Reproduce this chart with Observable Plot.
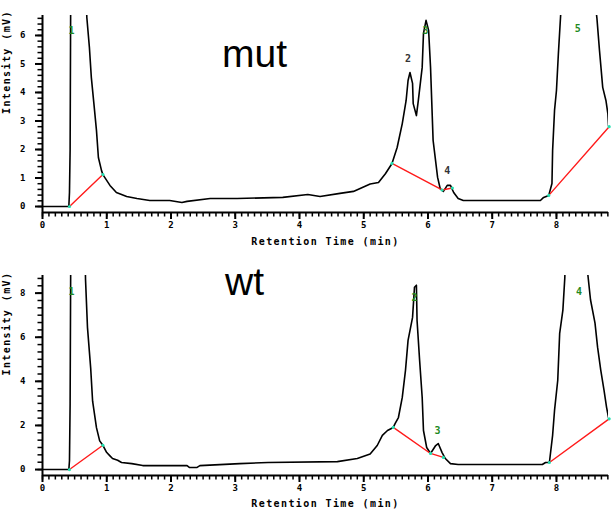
<!DOCTYPE html>
<html><head><meta charset="utf-8">
<script src="https://cdn.jsdelivr.net/npm/d3@7"></script>
<script src="https://cdn.jsdelivr.net/npm/@observablehq/plot@0.6"></script>
<style>
body{margin:0;background:#fff;}
#wrap{position:relative;width:614px;height:514px;overflow:hidden;background:#fff;}
.ttl{position:absolute;font-family:"Liberation Sans",Arial,sans-serif;font-size:39px;line-height:39px;color:#000;}
.panel{position:absolute;left:0;}
g.axt text{letter-spacing:1.4px;}
</style></head><body>
<div id="wrap">
  <div class="panel" id="top" style="top:0px"></div>
  <div class="panel" id="bottom" style="top:257px"></div>
  <div class="ttl" style="left:222px;top:34px">mut</div>
  <div class="ttl" style="left:225px;top:262px">wt</div>
</div>
<script>
// ---- shared axis values ----
const xTicks = [0, 1, 2, 3, 4, 5, 6, 7, 8];
const xLabel = "Retention Time (min)";
const yLabel = "Intensity (mV)";

// ---- mut panel ----
const mutTicksY = [0, 1, 2, 3, 4, 5, 6];
const mutTime = [0, 0.41, 0.42, 0.43, 0.44, 0.55, 0.67, 0.69, 0.73, 0.76, 0.80, 0.84, 0.87, 0.92, 0.94, 1.05, 1.15, 1.31, 1.47, 1.67, 1.98, 2.17, 2.25, 2.61, 3.03, 3.74, 4.13, 4.32, 4.63, 4.84, 5.10, 5.23, 5.34, 5.44, 5.52, 5.60, 5.66, 5.69, 5.72, 5.76, 5.77, 5.82, 5.85, 5.91, 5.93, 5.97, 6.01, 6.04, 6.08, 6.15, 6.19, 6.24, 6.30, 6.35, 6.40, 6.47, 6.55, 7.75, 7.80, 7.88, 7.93, 7.94, 7.97, 8.00, 8.03, 8.07, 8.30, 8.61, 8.63, 8.67, 8.72, 8.77, 8.80, 8.81];
const mutSignal = [0, 0, 0.5, 2.0, 8.0, 30, 8.0, 6.63, 5.58, 4.53, 3.61, 2.67, 1.72, 1.25, 1.12, 0.74, 0.49, 0.35, 0.28, 0.21, 0.21, 0.14, 0.18, 0.28, 0.28, 0.32, 0.42, 0.35, 0.46, 0.53, 0.79, 0.84, 1.16, 1.51, 2.07, 2.91, 3.72, 4.42, 4.70, 4.32, 3.61, 3.19, 3.72, 4.88, 6.07, 6.53, 6.18, 4.88, 2.32, 1.02, 0.63, 0.53, 0.74, 0.74, 0.49, 0.28, 0.21, 0.21, 0.32, 0.39, 0.81, 1.96, 3.37, 4.07, 5.37, 6.9, 30, 7.0, 6.6, 5.47, 4.18, 3.72, 3.26, 2.84];
const mutBaseTime = [0.42, 0.94, 5.44, 6.22, 6.38, 7.88, 8.82];
const mutBaseValue = [0, 1.12, 1.51, 0.58, 0.65, 0.39, 2.8];
const mutBaseSeg = [1, 1, 2, 2, 2, 3, 3];
const mutPeakTime = [0.45, 5.69, 5.96, 6.30, 8.33];
const mutPeakValue = [6.18, 5.19, 6.18, 1.26, 6.25];
const mutPeakText = ["1", "2", "3", "4", "5"];
const mutPeakColor = ["#1f8a1f", "#333333", "#1f8a1f", "#333333", "#1f8a1f"];

// ---- wt panel ----
const wtTicksY = [0, 2, 4, 6, 8];
const wtTime = [0, 0.41, 0.42, 0.43, 0.44, 0.55, 0.66, 0.67, 0.70, 0.75, 0.78, 0.84, 0.89, 0.94, 1.00, 1.05, 1.09, 1.17, 1.23, 1.39, 1.56, 2.25, 2.29, 2.40, 2.45, 3.07, 3.51, 4.59, 4.90, 5.10, 5.21, 5.29, 5.37, 5.46, 5.49, 5.54, 5.60, 5.65, 5.69, 5.76, 5.79, 5.82, 5.83, 5.87, 5.91, 5.93, 5.98, 6.04, 6.12, 6.16, 6.22, 6.27, 6.35, 6.47, 7.78, 7.83, 7.89, 7.94, 7.97, 8.02, 8.05, 8.10, 8.13, 8.30, 8.48, 8.49, 8.53, 8.60, 8.64, 8.69, 8.74, 8.78, 8.81];
const wtSignal = [0, 0, 0.4, 3, 10, 40, 10, 8.6, 6.45, 4.6, 3.1, 1.9, 1.3, 1.1, 0.77, 0.62, 0.5, 0.42, 0.32, 0.27, 0.18, 0.18, 0.09, 0.09, 0.18, 0.27, 0.32, 0.36, 0.5, 0.7, 1.09, 1.55, 1.77, 1.91, 2.09, 2.36, 3.27, 4.5, 5.86, 6.9, 8.27, 8.36, 6.77, 4.95, 3.27, 1.77, 1.0, 0.73, 1.09, 1.18, 0.77, 0.5, 0.27, 0.23, 0.23, 0.32, 0.32, 1.55, 2.68, 4.05, 6.18, 7.23, 8.7, 30, 9.5, 8.8, 7.7, 6.64, 5.55, 4.5, 3.6, 2.82, 2.36];
const wtBaseTime = [0.42, 0.94, 5.46, 6.04, 6.24, 7.89, 8.82];
const wtBaseValue = [0, 1.1, 1.91, 0.73, 0.55, 0.32, 2.3];
const wtBaseSeg = [1, 1, 2, 2, 2, 3, 3];
const wtPeakTime = [0.45, 5.79, 6.15, 8.35];
const wtPeakValue = [8.05, 7.8, 1.77, 8.05];
const wtPeakText = ["1", "2", "3", "4"];
const wtPeakColor = ["#1f8a1f", "#1f8a1f", "#1f8a1f", "#1f8a1f"];

const W = 614, ML = 42, MR = 6;
const X_MAX = 8.81;

function panel(o) {
  const pts = o.time.map((t, i) => ({t, v: o.signal[i]}));
  const base = o.baseT.map((t, i) => ({t, v: o.baseV[i], s: o.baseS[i]}));
  const labs = o.labT.map((t, i) => ({t, v: o.labV[i], s: o.labS[i], c: o.labC[i]}));
  const minorX = d3.range(0, 89).map(i => i / 10);
  const minorY = d3.range(0, Math.floor(o.yDomain[1] / o.minorStep) + 1).map(i => +(i * o.minorStep).toFixed(3));
  const fh = o.height - o.marginTop - o.marginBottom;   // frame height, px
  const fw = W - ML - MR;                                // frame width, px
  const yPerPx = (o.yDomain[1] - o.yDomain[0]) / fh;     // data units per pixel (y)
  const xPerPx = X_MAX / fw;                             // data units per pixel (x)
  const y0 = o.yDomain[0];
  return Plot.plot({
    width: W, height: o.height,
    marginLeft: ML, marginRight: MR, marginTop: o.marginTop, marginBottom: o.marginBottom,
    x: {domain: [0, X_MAX]},
    y: {domain: o.yDomain},
    style: {fontFamily: "'DejaVu Sans Mono', monospace", fontSize: "9px", fontWeight: "bold", color: "#000", background: "#fff"},
    marks: [
      Plot.axisX({ticks: xTicks, tickSize: 0, tickPadding: 9, label: null, tickFormat: d => String(d)}),
      Plot.axisY({ticks: o.yTicks, tickSize: 0, tickPadding: 17, label: null, tickFormat: d => String(d)}),
      // tick marks as short rules just outside the frame
      Plot.ruleX(minorX, {x: d => d, y1: y0, y2: y0 - 4.5 * yPerPx, stroke: "black", strokeWidth: 1.5}),
      Plot.ruleX(xTicks, {x: d => d, y1: y0, y2: y0 - 7 * yPerPx, stroke: "black", strokeWidth: 2}),
      Plot.ruleY(minorY, {y: d => d, x1: 0, x2: -4.5 * xPerPx, stroke: "black", strokeWidth: 1.5}),
      Plot.ruleY(o.yTicks, {y: d => d, x1: 0, x2: -7 * xPerPx, stroke: "black", strokeWidth: 2}),
      Plot.ruleX([0], {stroke: "#000", strokeWidth: 2}),
      Plot.ruleY([y0], {stroke: "#000", strokeWidth: 2}),
      Plot.line(pts, {x: "t", y: "v", stroke: "#000", strokeWidth: 1.6, clip: true}),
      Plot.line(base, {x: "t", y: "v", z: "s", stroke: "#ff1a1a", strokeWidth: 1.4}),
      Plot.dot(base, {x: "t", y: "v", r: 1.6, fill: "#22e0b0", stroke: "none"}),
      Plot.text(labs, {x: "t", y: "v", text: "s", fill: "c", fontSize: 10}),
      Plot.text([xLabel], {frameAnchor: "bottom", dy: o.titleDy, fontSize: 10, className: "axt"}),
      Plot.text([yLabel], {frameAnchor: "left", rotate: -90, dx: -36, fontSize: 10, className: "axt"})
    ]
  });
}

document.getElementById("top").appendChild(panel({
  time: mutTime, signal: mutSignal,
  baseT: mutBaseTime, baseV: mutBaseValue, baseS: mutBaseSeg,
  labT: mutPeakTime, labV: mutPeakValue, labS: mutPeakText, labC: mutPeakColor,
  yDomain: [-0.21, 6.7], yTicks: mutTicksY, minorStep: 0.2,
  height: 257, marginTop: 15, marginBottom: 45, titleDy: 32
}));
document.getElementById("bottom").appendChild(panel({
  time: wtTime, signal: wtSignal,
  baseT: wtBaseTime, baseV: wtBaseValue, baseS: wtBaseSeg,
  labT: wtPeakTime, labV: wtPeakValue, labS: wtPeakText, labC: wtPeakColor,
  yDomain: [-0.27, 8.8], yTicks: wtTicksY, minorStep: 1 / 3,
  height: 257, marginTop: 18, marginBottom: 39, titleDy: 31
}));
</script>
</body></html>
